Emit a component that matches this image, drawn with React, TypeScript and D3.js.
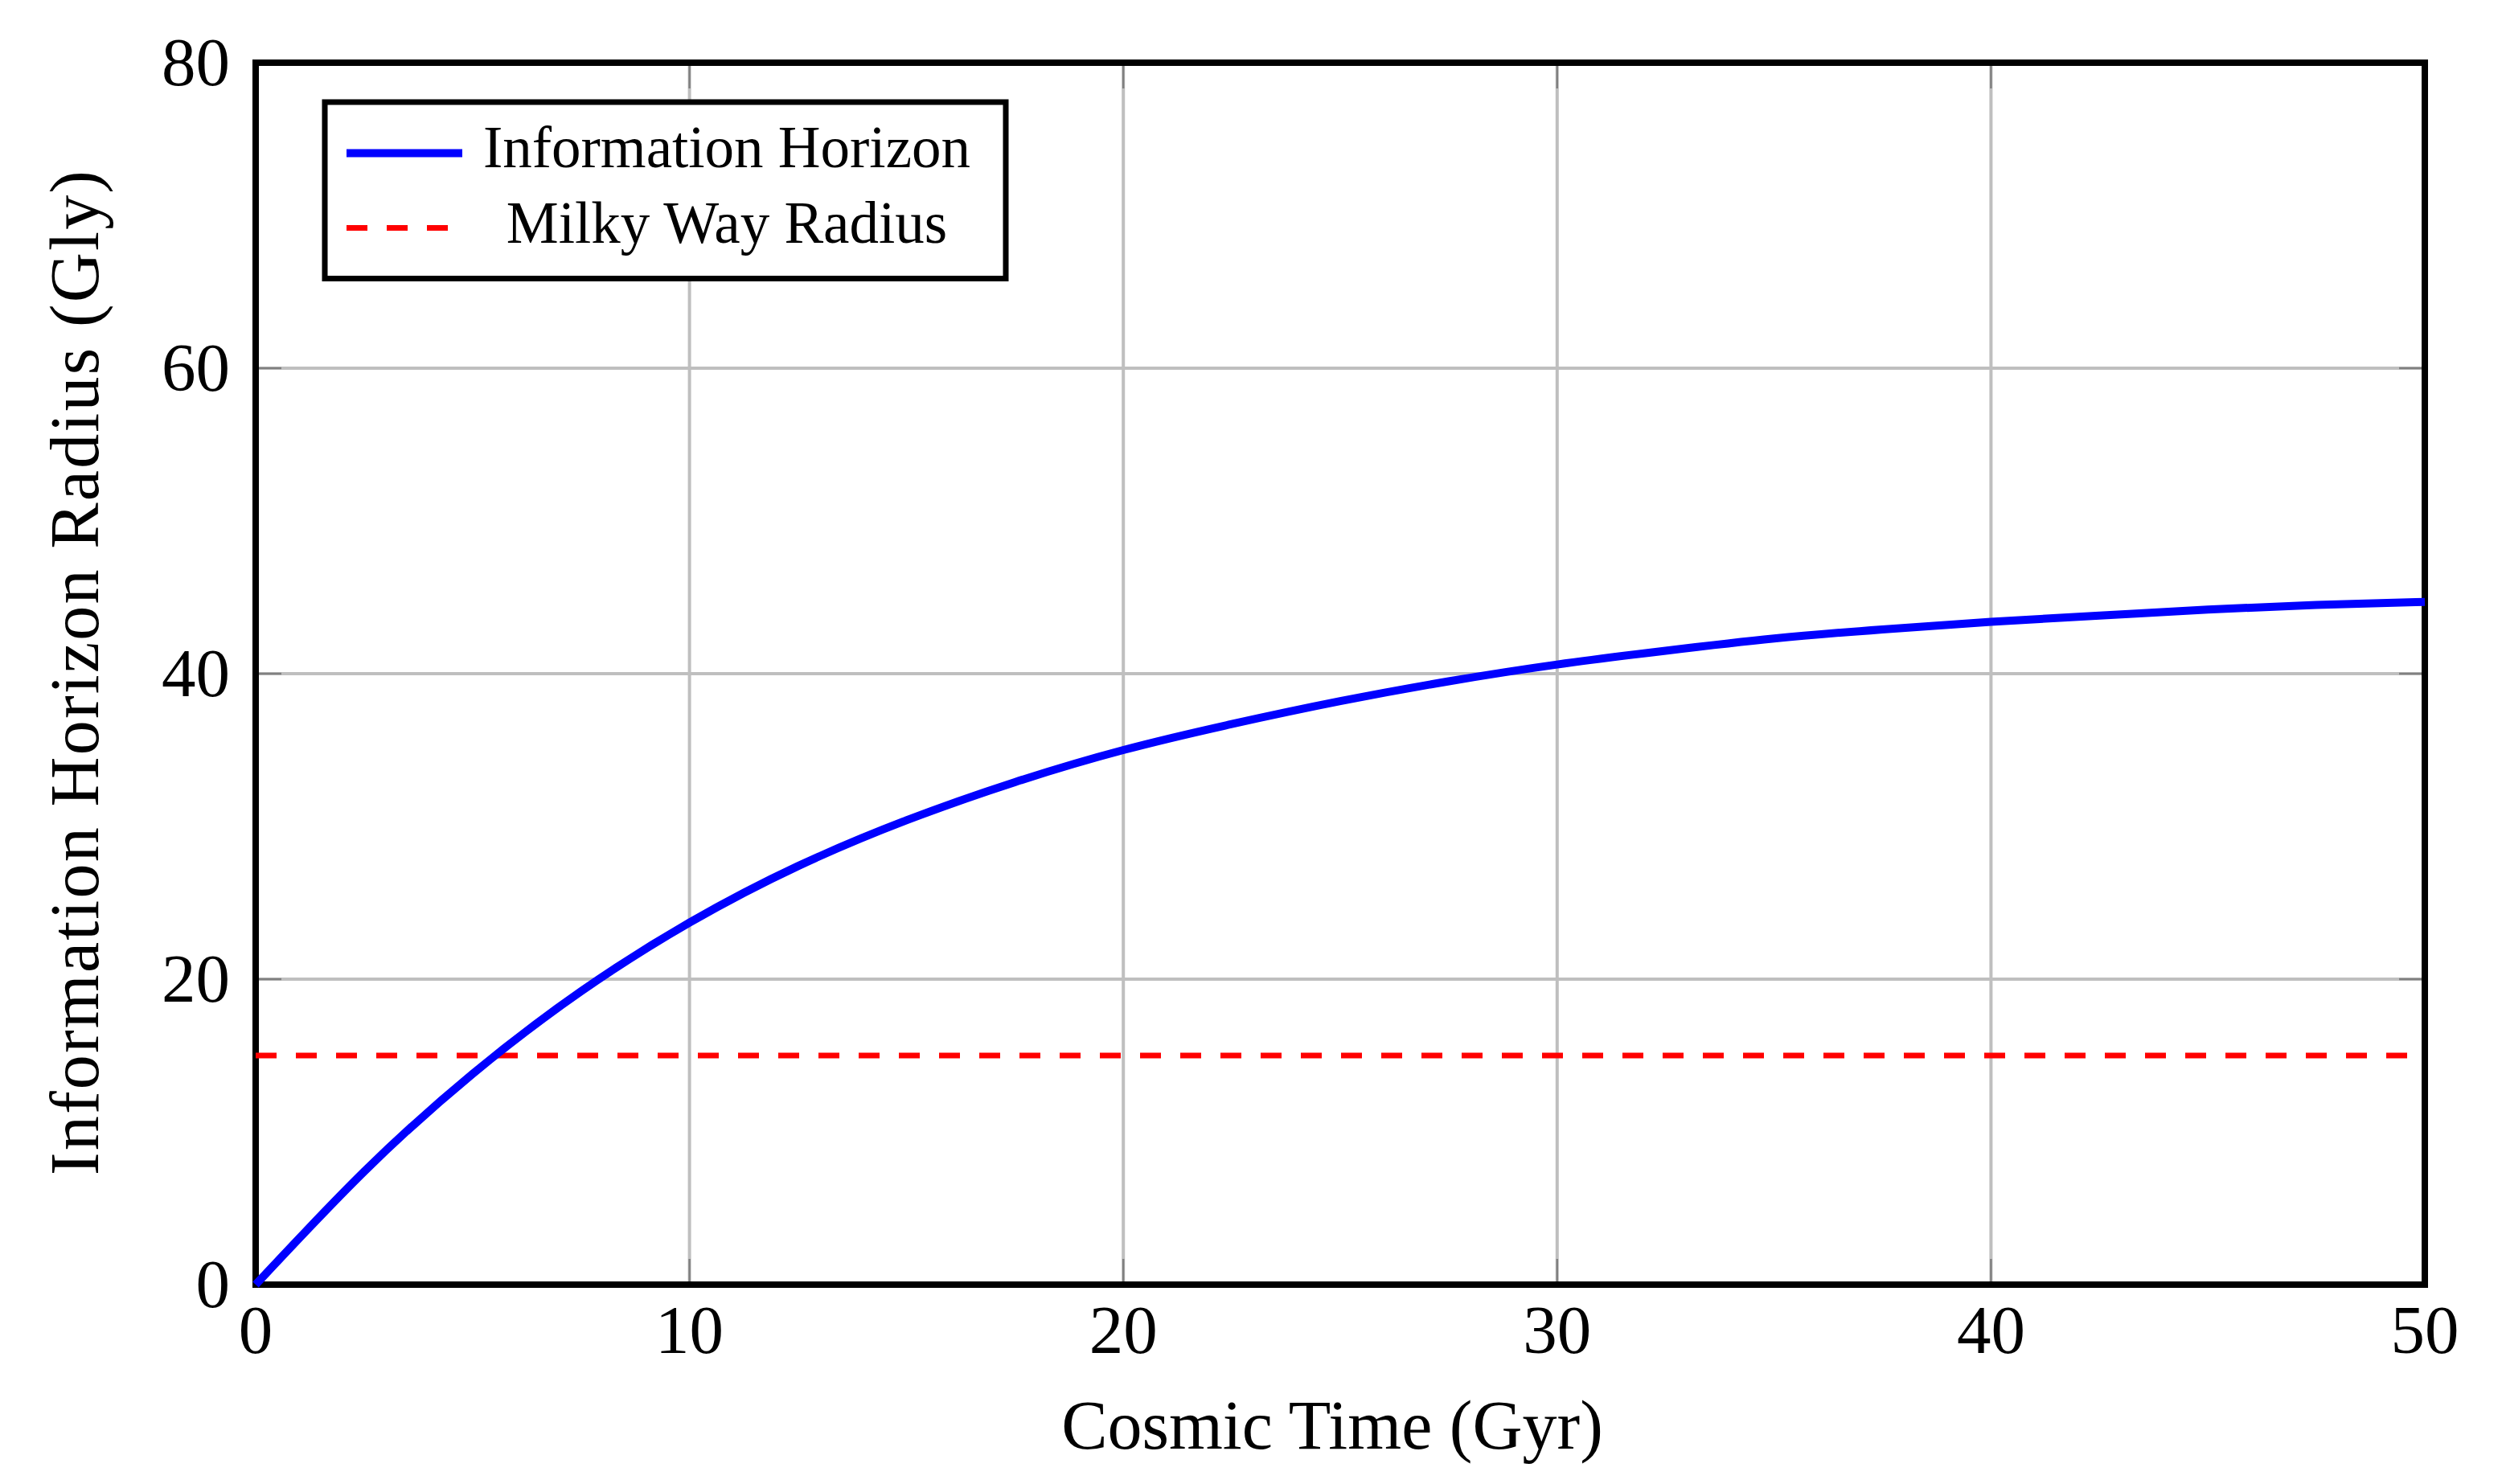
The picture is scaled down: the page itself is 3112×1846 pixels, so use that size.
import { useRef, useEffect } from 'react';
import * as d3 from 'd3';

// values
const timeGyr = [0, 2.5, 5, 7.5, 10, 12.5, 15, 17.5, 20, 22.5, 25, 27.5, 30, 32.5, 35, 37.5, 40, 42.5, 45, 47.5, 50];
const horizonGly = [0, 7.4, 13.8, 19.2, 23.7, 27.4, 30.4, 32.9, 35.0, 36.7, 38.2, 39.5, 40.6, 41.5, 42.3, 42.9, 43.4, 43.8, 44.2, 44.5, 44.7];
const milkyWayGly = [15, 15];
const milkyWayTime = [0, 50];
const xTicks = [0, 10, 20, 30, 40, 50];
const yTicks = [0, 20, 40, 60, 80];
const legendLabels = ['Information Horizon', 'Milky Way Radius'];

const FONT = '"Liberation Serif", "Times New Roman", serif';

export default function App() {
  const svgRef = useRef<SVGSVGElement>(null);

  useEffect(() => {
    document.body.style.margin = '0';
    if (!svgRef.current) return;

    const W = 3112, H = 1846;
    const left = 318, right = 3016, top = 78, bottom = 1598;

    const svg = d3.select(svgRef.current);
    svg.selectAll('*').remove();
    svg.attr('width', W).attr('height', H).attr('viewBox', `0 0 ${W} ${H}`);

    svg.append('rect').attr('width', W).attr('height', H).attr('fill', '#fff');

    const x = d3.scaleLinear().domain([0, 50]).range([left, right]);
    const y = d3.scaleLinear().domain([0, 80]).range([bottom, top]);

    // grid
    const grid = svg.append('g');
    grid.selectAll('.vgrid')
      .data(xTicks)
      .join('line')
      .attr('x1', d => x(d)).attr('x2', d => x(d))
      .attr('y1', top).attr('y2', bottom)
      .attr('stroke', '#bfbfbf').attr('stroke-width', 4);
    grid.selectAll('.hgrid')
      .data(yTicks)
      .join('line')
      .attr('x1', left).attr('x2', right)
      .attr('y1', d => y(d)).attr('y2', d => y(d))
      .attr('stroke', '#bfbfbf').attr('stroke-width', 4);

    // inward tick marks on all four sides
    const tickLen = 32;
    const ticks = svg.append('g').attr('stroke', '#808080').attr('stroke-width', 2.5);
    xTicks.forEach(t => {
      ticks.append('line').attr('x1', x(t)).attr('x2', x(t)).attr('y1', bottom).attr('y2', bottom - tickLen);
      ticks.append('line').attr('x1', x(t)).attr('x2', x(t)).attr('y1', top).attr('y2', top + tickLen);
    });
    yTicks.forEach(t => {
      ticks.append('line').attr('y1', y(t)).attr('y2', y(t)).attr('x1', left).attr('x2', left + tickLen);
      ticks.append('line').attr('y1', y(t)).attr('y2', y(t)).attr('x1', right).attr('x2', right - tickLen);
    });

    // frame
    svg.append('rect')
      .attr('x', left).attr('y', top)
      .attr('width', right - left).attr('height', bottom - top)
      .attr('fill', 'none').attr('stroke', '#000').attr('stroke-width', 8);

    // Milky Way radius
    const flat = d3.line<number>().x((_, i) => x(milkyWayTime[i])).y(d => y(d));
    svg.append('path')
      .attr('d', flat(milkyWayGly))
      .attr('fill', 'none').attr('stroke', '#ff0000')
      .attr('stroke-width', 7).attr('stroke-dasharray', '26,24');

    // information horizon
    const curve = d3.line<number>()
      .x((_, i) => x(timeGyr[i]))
      .y(d => y(d))
      .curve(d3.curveNatural);
    svg.append('path')
      .attr('d', curve(horizonGly))
      .attr('fill', 'none').attr('stroke', '#0000ff')
      .attr('stroke-width', 10).attr('stroke-linejoin', 'round');

    // tick labels
    svg.append('g')
      .selectAll('text')
      .data(xTicks)
      .join('text')
      .attr('x', d => x(d)).attr('y', 1683)
      .attr('text-anchor', 'middle')
      .attr('font-family', FONT).attr('font-size', 85).attr('fill', '#000')
      .text(d => String(d));
    svg.append('g')
      .selectAll('text')
      .data(yTicks)
      .join('text')
      .attr('x', 286).attr('y', d => y(d) + 28)
      .attr('text-anchor', 'end')
      .attr('font-family', FONT).attr('font-size', 85).attr('fill', '#000')
      .text(d => String(d));

    // axis titles
    svg.append('text')
      .attr('x', 1657).attr('y', 1802)
      .attr('text-anchor', 'middle')
      .attr('font-family', FONT).attr('font-size', 86).attr('fill', '#000')
      .text('Cosmic Time (Gyr)');
    svg.append('text')
      .attr('transform', `translate(122,837) rotate(-90)`)
      .attr('text-anchor', 'middle')
      .attr('font-family', FONT).attr('font-size', 86).attr('fill', '#000')
      .attr('textLength', 1250).attr('lengthAdjust', 'spacing')
      .text('Information Horizon Radius (Gly)');

    // legend
    const lg = svg.append('g');
    lg.append('rect')
      .attr('x', 404).attr('y', 127).attr('width', 847).attr('height', 219.5)
      .attr('fill', '#fff').attr('stroke', '#000').attr('stroke-width', 7);
    lg.append('line')
      .attr('x1', 431).attr('x2', 575).attr('y1', 190.5).attr('y2', 190.5)
      .attr('stroke', '#0000ff').attr('stroke-width', 10);
    lg.append('line')
      .attr('x1', 431).attr('x2', 557).attr('y1', 283.5).attr('y2', 283.5)
      .attr('stroke', '#ff0000').attr('stroke-width', 7).attr('stroke-dasharray', '26,24');
    lg.selectAll('.lt')
      .data(legendLabels)
      .join('text')
      .attr('x', 904).attr('y', (_, i) => (i === 0 ? 208 : 302))
      .attr('text-anchor', 'middle')
      .attr('font-family', FONT).attr('font-size', 73).attr('fill', '#000')
      .text(d => d);
  }, []);

  return <svg ref={svgRef} style={{ display: 'block' }} />;
}
